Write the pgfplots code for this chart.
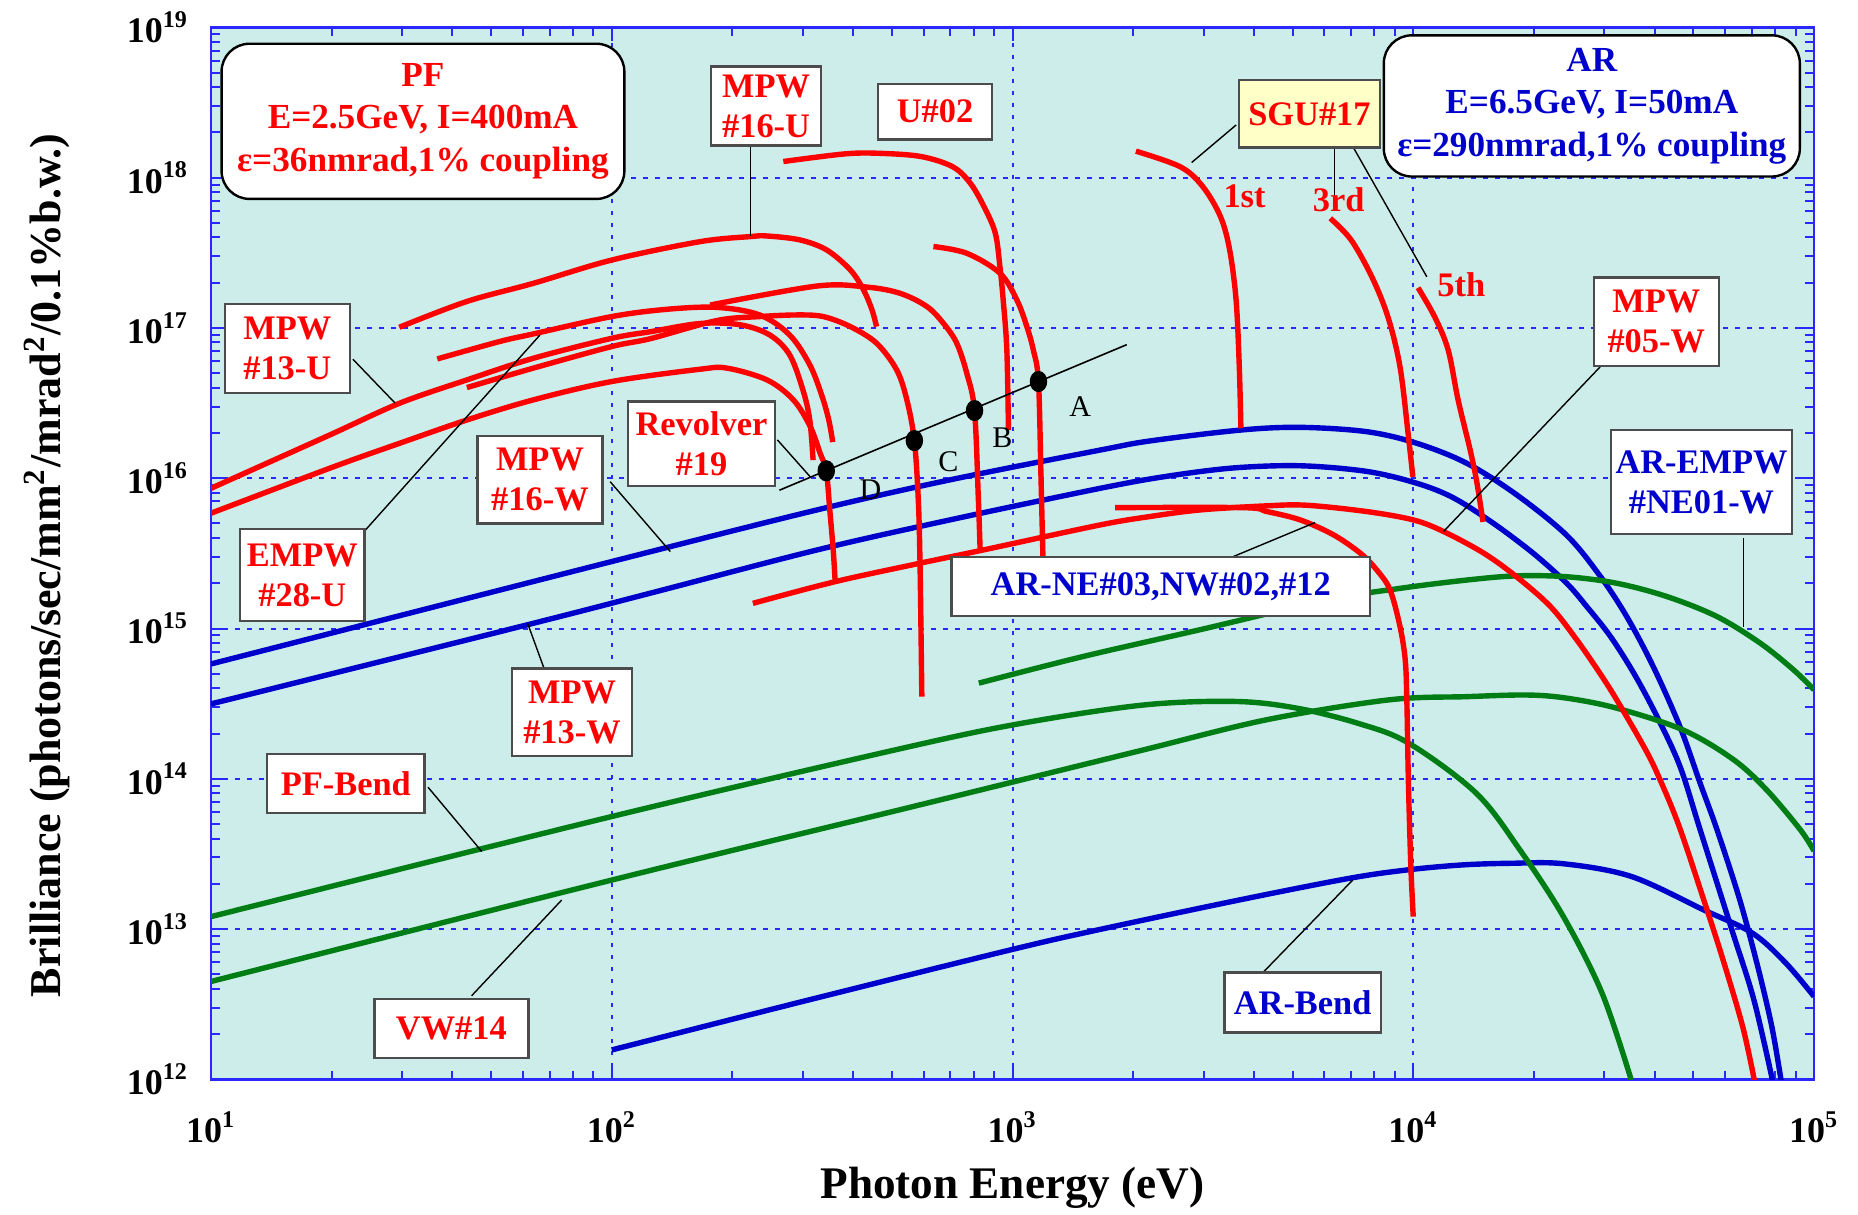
\documentclass[border=0pt]{standalone}
\usepackage{pgfplots}
\pgfplotsset{compat=1.18}
\usepackage{fontspec}
\setmainfont{Liberation Serif}
\definecolor{bgc}{RGB}{204,237,233}
\definecolor{cred}{RGB}{255,0,0}
\definecolor{cblue}{RGB}{0,0,204}
\definecolor{cgreen}{RGB}{0,125,20}
\definecolor{gridb}{RGB}{40,40,255}
\definecolor{syel}{RGB}{255,255,200}
\tikzset{
  lbl/.style={draw=black!70, line width=0.6pt, fill=white, align=center, inner sep=0pt, font=\fontsize{8.6}{10}\selectfont\bfseries},
  rbox/.style={draw=black, line width=0.6pt, fill=white, rounded corners=7pt, align=center, inner sep=0pt, font=\fontsize{8.8}{10.6}\selectfont\bfseries},
  ptr/.style={black, line width=0.35pt},
}
\begin{document}
\begin{tikzpicture}
\begin{axis}[
  name=ax,
  scale only axis, width=400.75pt, height=263pt,
  xmode=log, ymode=log, xmin=10, xmax=1e5, ymin=1e12, ymax=1e19,
  axis background/.style={fill=bgc},
  axis line style={gridb, line width=0.6pt},
  every tick/.style={gridb, line width=0.5pt},
  major tick length=3.5pt, minor tick length=2.2pt,
  xtick={10,100,1000,10000,100000},
  xticklabels={10\textsuperscript{1},10\textsuperscript{2},10\textsuperscript{3},10\textsuperscript{4},10\textsuperscript{5}},
  ytick={1e12,1e13,1e14,1e15,1e16,1e17,1e18,1e19},
  yticklabels={10\textsuperscript{12},10\textsuperscript{13},10\textsuperscript{14},10\textsuperscript{15},10\textsuperscript{16},10\textsuperscript{17},10\textsuperscript{18},10\textsuperscript{19}},
  grid=major,
  major grid style={gridb, line width=0.5pt, dash pattern=on 1.2pt off 1.8pt},
  tick label style={font=\fontsize{9}{10}\selectfont\bfseries},
  xticklabel style={yshift=-4.5pt},
  yticklabel style={xshift=-2pt},
  every axis plot/.append style={line width=1.35pt, no marks, smooth, tension=0.55},
]
% ---------------- blue (AR) ----------------
\addplot[cblue] coordinates {(10,5.81e14) (100,2.79e15) (325,6.15e15) (698,9.75e15) (1656,1.54e16) (2203,1.77e16) (3698,2.09e16) (5224,2.18e16) (7656,2.04e16) (10190,1.71e16) (13580,1.26e16) (18110,7.76e15) (24150,4.17e15) (29240,2.24e15) (34100,1.20e15) (39720,5.57e14) (46300,2.22e14) (52000,9.33e13) (57300,4.57e13) (65300,1.56e13) (72400,5.62e12) (78500,2.24e12) (82800,9.8e11)};
\addplot[cblue] coordinates {(10,3.15e14) (61.7,1.06e15) (125,1.72e15) (325,3.33e15) (698,5.28e15) (1656,8.57e15) (2427,1.03e16) (3556,1.17e16) (5224,1.21e16) (7656,1.11e16) (10190,9.27e15) (12590,7.41e15) (15850,5.01e15) (19950,3.16e15) (24150,2.00e15) (27100,1.40e15) (31000,8.91e14) (35500,5.05e14) (40600,2.59e14) (46300,1.21e14) (52000,4.57e13) (62400,9.86e12) (70800,3.38e12) (78900,9.7e11)};
\addplot[cblue] coordinates {(100,1.57e12) (301,3.31e12) (986,7.26e12) (1637,9.89e12) (3673,1.56e13) (6950,2.18e13) (9727,2.48e13) (13200,2.67e13) (17500,2.74e13) (23700,2.72e13) (35000,2.24e13) (53100,1.34e13) (70200,9.40e12) (85100,5.93e12) (100000,3.56e12)};
% ---------------- green ----------------
\addplot[cgreen] coordinates {(10,1.21e13) (100,5.61e13) (522,1.58e14) (1054,2.34e14) (2128,3.10e14) (3606,3.27e14) (5129,2.95e14) (7278,2.34e14) (9727,1.73e14) (14360,8.02e13) (18450,3.37e13) (23700,1.21e13) (29600,3.74e12) (35000,9.9e11)};
\addplot[cgreen] coordinates {(10,4.48e12) (100,2.12e13) (522,6.21e13) (1054,9.84e13) (2128,1.56e14) (4305,2.47e14) (8690,3.35e14) (13580,3.52e14) (19200,3.61e14) (24150,3.44e14) (32200,2.95e14) (47200,2.11e14) (63000,1.34e14) (76200,8.43e13) (92500,4.57e13) (100000,3.31e13)};
\addplot[cgreen] coordinates {(824,4.33e14) (1496,6.50e14) (3027,1.00e15) (6109,1.55e15) (9268,1.85e15) (13580,2.10e15) (18110,2.24e15) (24150,2.21e15) (32200,2.00e15) (43000,1.63e15) (57300,1.20e15) (73500,7.98e14) (88900,5.31e14) (100000,3.91e14)};
% ---------------- red ----------------
\addplot[cred] coordinates {(29.5,1.01e17) (43.5,1.50e17) (63.7,1.98e17) (100,2.83e17) (166,3.75e17) (221,4.05e17) (244,4.09e17) (295,3.85e17) (344,3.30e17) (394,2.43e17) (425,1.79e17) (446,1.32e17) (458,1.02e17)};
\addplot[cred] coordinates {(268,1.28e18) (383,1.44e18) (471,1.45e18) (593,1.38e18) (710,1.18e18) (785,9.18e17) (849,6.41e17) (906,4.27e17) (931,2.51e17) (948,1.53e17) (968,7.14e16) (977,2.09e16)};
\addplot[cred] coordinates {(635,3.48e17) (769,3.14e17) (931,2.31e17) (1026,1.53e17) (1086,1.02e17) (1127,7.14e16) (1161,4.40e16) (1178,1.0e16) (1191,3.01e15)};
\addplot[cred] coordinates {(176,1.42e17) (325,1.90e17) (433,1.87e17) (524,1.70e17) (611,1.39e17) (673,1.07e17) (726,7.91e16) (769,5.00e16) (804,2.82e16) (822,7.18e15) (830,3.42e15)};
\addplot[cred] coordinates {(43.5,4.01e16) (63.7,5.40e16) (100,7.52e16) (125,8.49e16) (183,1.12e17) (234,1.19e17) (290,1.22e17) (337,1.19e17) (394,1.02e17) (458,7.91e16) (514,5.26e16) (545,3.32e16) (569,1.78e16) (582,7.18e15) (588,2.58e15) (594,3.52e14)};
\addplot[cred] coordinates {(10,5.85e15) (20.2,1.19e16) (29.6,1.71e16) (43.5,2.44e16) (63.7,3.32e16) (100,4.40e16) (166,5.31e16) (194,5.40e16) (244,4.51e16) (284,3.32e16) (313,2.20e16) (331,1.47e16) (343,1.12e16) (350,6.15e15) (357,3.33e15) (361,2.05e15)};
\addplot[cred] coordinates {(10,8.57e15) (13.8,1.26e16) (20.2,1.99e16) (29.6,3.16e16) (43.5,4.51e16) (63.7,6.28e16) (100,8.53e16) (125,9.44e16) (166,1.07e17) (209,1.05e17) (248,8.97e16) (278,6.61e16) (300,3.86e16) (312,2.44e16) (318,1.32e16)};
\addplot[cred] coordinates {(36.7,6.22e16) (52.6,8.13e16) (63.7,9.12e16) (100,1.19e17) (137,1.33e17) (183,1.37e17) (234,1.22e17) (278,8.97e16) (312,5.68e16) (334,3.58e16) (348,2.44e16) (356,1.74e16)};
\addplot[cred] coordinates {(225,1.47e15) (361,2.05e15) (588,2.72e15) (845,3.33e15) (1656,4.89e15) (2203,5.56e15) (2938,6.15e15) (4315,6.55e15) (5420,6.61e15) (7656,6.00e15) (10000,5.28e15) (11900,4.42e15) (15000,3.17e15) (18100,2.21e15) (22000,1.40e15) (25600,8.39e14) (29200,5.05e14) (32200,3.35e14) (38000,1.56e14) (41300,9.84e13) (46100,4.81e13) (53100,1.56e13) (59300,6.24e12) (66400,2.24e12) (71100,9.68e11)};
\addplot[cred] coordinates {(1803,6.37e15) (3767,6.37e15) (4315,6.00e15) (5224,5.28e15) (6324,4.20e15) (7379,3.17e15) (8110,2.45e15) (8750,1.81e15) (9268,1.03e15) (9550,6.18e14) (9638,3.35e14) (9727,9.35e13) (9863,2.61e13) (10000,1.21e13)};
\addplot[cred] coordinates {(2032,1.50e18) (2624,1.18e18) (2985,8.71e17) (3304,5.50e17) (3483,3.30e17) (3614,1.53e17) (3681,5.53e16) (3715,2.15e16)};
\addplot[cred] coordinates {(6209,5.36e17) (6998,3.85e17) (7889,2.18e17) (8650,1.18e17) (9268,5.51e16) (9705,2.00e16) (9977,1.02e16)};
\addplot[cred] coordinates {(10280,1.85e17) (11320,1.18e17) (12220,7.14e16) (12940,3.32e16) (13870,1.54e16) (14420,9.31e15) (14930,5.12e15)};
% ---------------- revolver line and dots ----------------
\addplot[black, line width=0.4pt, sharp plot] coordinates {(262,8.32e15) (1928,7.74e16)};
\addplot[only marks, mark=*, mark size=1.5pt, black, mark options={yscale=1.3}] coordinates {(343,1.12e16) (569,1.78e16) (804,2.82e16) (1161,4.40e16)};
\node[font=\fontsize{7.5}{8}\selectfont] at (axis cs:1476,2.99e16) {A};
\node[font=\fontsize{7.5}{8}\selectfont] at (axis cs:944,1.85e16) {B};
\node[font=\fontsize{7.5}{8}\selectfont] at (axis cs:692,1.29e16) {C};
\node[font=\fontsize{7.5}{8}\selectfont] at (axis cs:442,8.36e15) {D};
% ---------------- pointer lines ----------------
\draw[ptr] (axis cs:222,1.60e18) -- (axis cs:222,4.09e17);
\draw[ptr] (axis cs:3614,2.24e18) -- (axis cs:2799,1.26e18);
\draw[ptr] (axis cs:6353,1.58e18) -- (axis cs:6353,6.92e17);
\draw[ptr] (axis cs:7096,1.58e18) -- (axis cs:10810,2.19e17);
\draw[ptr] (axis cs:22.6,6.19e16) -- (axis cs:28.8,3.16e16);
\draw[ptr] (axis cs:24.3,4.53e15) -- (axis cs:66.2,8.97e16);
\draw[ptr] (axis cs:99.1,9.48e15) -- (axis cs:140,3.25e15);
\draw[ptr] (axis cs:259,1.80e16) -- (axis cs:313,1.02e16);
\draw[ptr] (axis cs:61.7,1.08e15) -- (axis cs:67.8,5.41e14);
\draw[ptr] (axis cs:34.8,8.79e13) -- (axis cs:47.4,3.28e13);
\draw[ptr] (axis cs:44.7,3.60e12) -- (axis cs:75.0,1.56e13);
\draw[ptr] (axis cs:4217,5.14e12) -- (axis cs:7063,2.12e13);
\draw[ptr] (axis cs:3556,3.01e15) -- (axis cs:5689,5.07e15);
\draw[ptr] (axis cs:29400,5.58e16) -- (axis cs:11900,4.42e15);
\draw[ptr] (axis cs:66700,3.99e15) -- (axis cs:66700,1.03e15);
% ---------------- boxes ----------------
\node[rbox, text=cred, minimum width=100.7pt, minimum height=38.8pt] at (axis cs:33.8,2.37e18) {PF\\E=2.5GeV, I=400mA\\ε=36nmrad,1\% coupling};
\node[rbox, text=cblue, minimum width=104pt, minimum height=35.3pt] at (axis cs:27900,3.0e18) {AR\\E=6.5GeV, I=50mA\\ε=290nmrad,1\% coupling};
\node[lbl, text=cred, minimum width=27.5pt, minimum height=19.8pt] at (axis cs:242.7,3.0e18) {MPW\\\#16-U};
\node[lbl, text=cred, minimum width=28.6pt, minimum height=13.9pt] at (axis cs:641,2.75e18) {U\#02};
\node[lbl, text=cred, fill=syel, minimum width=35.2pt, minimum height=16.9pt] at (axis cs:5508,2.66e18) {SGU\#17};
\node[lbl, text=cred, minimum width=31.25pt, minimum height=22.3pt] at (axis cs:15.5,7.28e16) {MPW\\\#13-U};
\node[lbl, text=cred, minimum width=31.1pt, minimum height=22.9pt] at (axis cs:16.9,2.27e15) {EMPW\\\#28-U};
\node[lbl, text=cred, minimum width=31.3pt, minimum height=21.9pt] at (axis cs:66.2,9.8e15) {MPW\\\#16-W};
\node[lbl, text=cred, minimum width=36.8pt, minimum height=21.1pt] at (axis cs:167.5,1.70e16) {Revolver\\\#19};
\node[lbl, text=cred, minimum width=30pt, minimum height=21.8pt] at (axis cs:79.6,2.77e14) {MPW\\\#13-W};
\node[lbl, text=cred, minimum width=39.3pt, minimum height=14.8pt] at (axis cs:21.7,9.3e13) {PF-Bend};
\node[lbl, text=cred, minimum width=38.5pt, minimum height=14.8pt] at (axis cs:39.8,2.18e12) {VW\#14};
\node[lbl, text=cblue, minimum width=39.1pt, minimum height=15pt] at (axis cs:5297,3.24e12) {AR-Bend};
\node[lbl, text=cblue, minimum width=104.6pt, minimum height=14.8pt] at (axis cs:2344,1.90e15) {AR-NE\#03,NW\#02,\#12};
\node[lbl, text=cred, minimum width=31.25pt, minimum height=22.1pt] at (axis cs:40400,1.10e17) {MPW\\\#05-W};
\node[lbl, text=cblue, minimum width=45.3pt, minimum height=26pt] at (axis cs:52400,9.44e15) {AR-EMPW\\\#NE01-W};
\node[text=cred, font=\fontsize{8.6}{10}\selectfont\bfseries] at (axis cs:3793,7.48e17) {1st};
\node[text=cred, font=\fontsize{8.6}{10}\selectfont\bfseries] at (axis cs:6516,7.11e17) {3rd};
\node[text=cred, font=\fontsize{8.6}{10}\selectfont\bfseries] at (axis cs:13180,1.93e17) {5th};
\coordinate (axW) at (rel axis cs:0,0.5);
\coordinate (axS) at (rel axis cs:0.5,0);
\coordinate (axSW) at (rel axis cs:0,0);
\coordinate (axNE) at (rel axis cs:1,1);
\end{axis}
\node[rotate=90, anchor=center, font=\fontsize{11}{13}\selectfont\bfseries] at ([xshift=-41pt,yshift=-3pt]axW) {Brilliance (photons/sec/mm\textsuperscript{2}/mrad\textsuperscript{2}/0.1\%b.w.)};
\node[anchor=center, font=\fontsize{11.3}{13}\selectfont\bfseries] at ([yshift=-27.1pt]axS) {Photon Energy (eV)};
\pgfresetboundingbox
\path[use as bounding box] ([shift={(-52.75pt,-33.9pt)}]axSW) rectangle ([shift={(11pt,6.85pt)}]axNE);
\end{tikzpicture}
\end{document}
